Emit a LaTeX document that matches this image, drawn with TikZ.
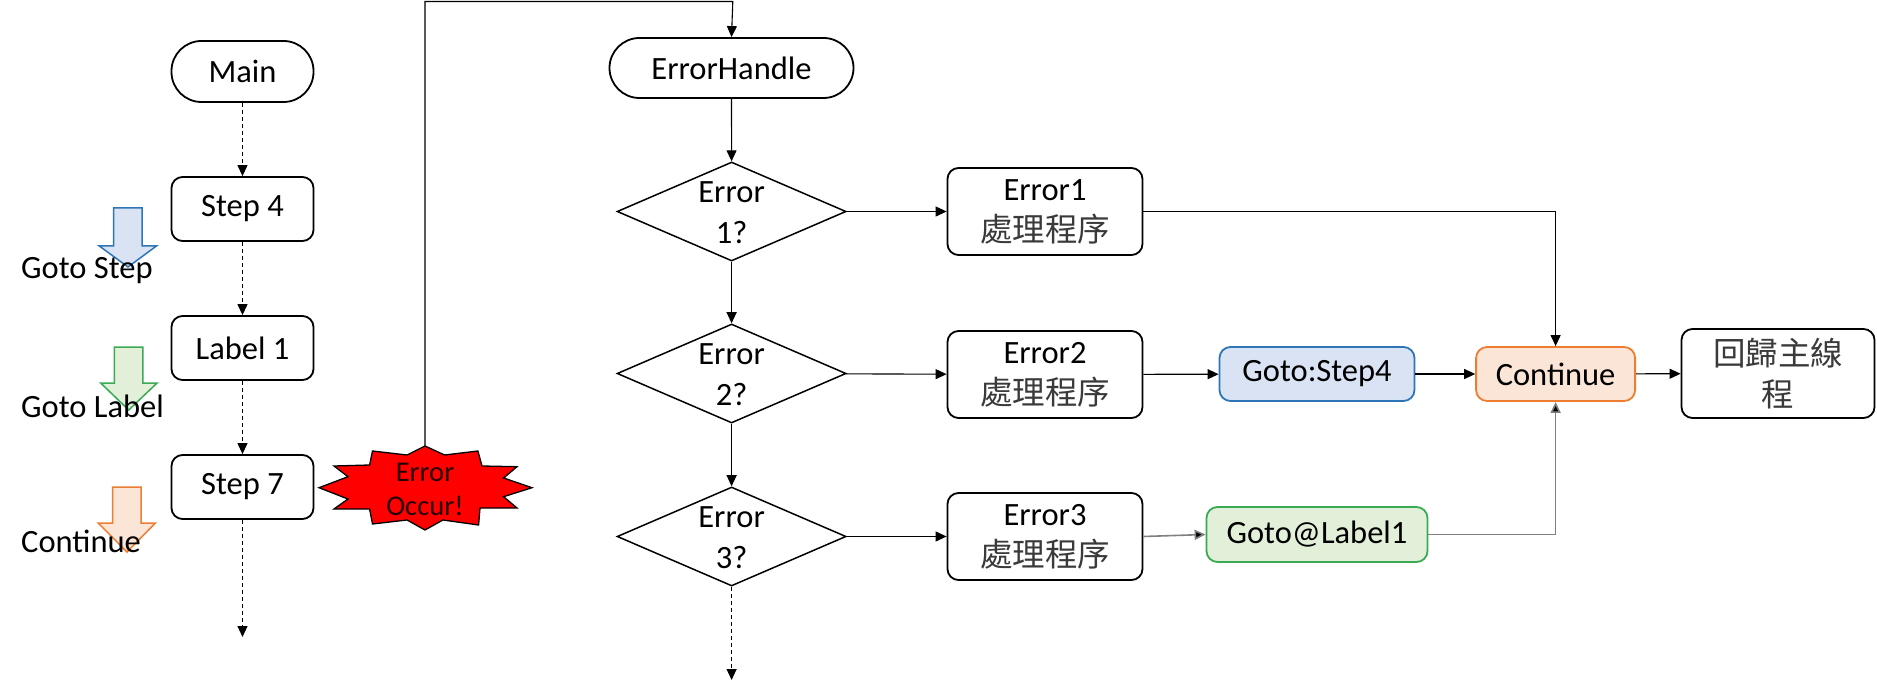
\documentclass[tikz,border=0pt]{standalone}
\usepackage{fontspec}
\setmainfont{Carlito}
\newfontfamily\cjk{Noto Sans CJK TC}
\usetikzlibrary{arrows.meta,shapes.geometric,calc}
\definecolor{bfill}{HTML}{DAE3F3}
\definecolor{bdraw}{HTML}{2E75B6}
\definecolor{ofill}{HTML}{FBE5D6}
\definecolor{odraw}{HTML}{ED7D31}
\definecolor{gfill}{HTML}{E2F0D9}
\definecolor{gdraw}{HTML}{3AAA55}
\definecolor{cjkgray}{HTML}{3A3A3A}
\newcommand{\zh}[1]{{\cjk\color{cjkgray}#1}}
\tikzset{
  txt/.style={font=\fontsize{32.5}{41}\selectfont, inner sep=0pt, align=center},
  procbox/.style={txt, draw, line width=1.8pt, rounded corners=11pt},
  termbox/.style={txt, draw, line width=1.8pt, rounded corners=30pt},
  decbox/.style={diamond, draw, line width=1.5pt, inner sep=0pt, minimum width=229pt, minimum height=99pt},
  conn/.style={line width=1.1pt, -{Triangle[length=11pt,width=10pt]}},
  dconn/.style={conn, dash pattern=on 4pt off 3pt},
  gconn/.style={conn, draw=black!50, line width=1.6pt, -{Triangle[length=11pt,width=10pt,fill=black]}},
  sidetxt/.style={font=\fontsize{32.5}{38}\selectfont, inner sep=0pt, anchor=base west},
}
\begin{document}
\begin{tikzpicture}[x=1pt,y=-1pt]
\useasboundingbox (0,0) rectangle (1877,695);
\fill[white] (0,0) rectangle (1877,695);

% left side arrows
\draw[bdraw, fill=bfill, line width=1.5pt] (113.6,208) -- (142.1,208) -- (142.1,246) -- (156.4,246) -- (128,267) -- (99.3,246) -- (113.6,246) -- cycle;
\draw[gdraw, fill=gfill, line width=1.5pt] (114.3,347) -- (142.9,347) -- (142.9,383) -- (157.1,383) -- (128.7,410) -- (100.7,383) -- (114.3,383) -- cycle;
\draw[odraw, fill=ofill, line width=1.5pt] (112.5,487) -- (141,487) -- (141,523) -- (155.4,523) -- (127,552) -- (98.2,523) -- (112.5,523) -- cycle;
\node[sidetxt] (t1) at (21,278) {Goto Step};
\node[sidetxt] (t2) at (21,417) {Goto Label};
\node[sidetxt] (t3) at (21,552) {Continue};

% main line
\node[termbox, minimum width=142pt, minimum height=61pt] (main) at (242.5,71.5) {Main};
\node[procbox, minimum width=142pt, minimum height=64pt] (s4) at (242.5,209) {Step 4};
\node[procbox, minimum width=142pt, minimum height=64pt] (l1) at (242.5,348) {Label 1};
\node[procbox, minimum width=142pt, minimum height=64pt] (s7) at (242.5,487) {Step 7};
\coordinate (end1) at (242.5,637);
\draw[dconn] (main) -- (s4);
\draw[dconn] (s4) -- (l1);
\draw[dconn] (l1) -- (s7);
\draw[dconn] (s7) -- (end1);

% starburst
\draw[fill=red, line width=1.3pt] (425,446) -- (444.6,455) -- (477.9,451) -- (482,466) -- (517,466.7) -- (503.6,478) -- (532,487.7) -- (503.6,496.7) -- (517,508) -- (480,508) -- (478.6,525) -- (442.9,520) -- (425,530) -- (407,520) -- (372.5,524) -- (369.6,509) -- (334,509) -- (348,499) -- (319,487.7) -- (348,476.7) -- (334,466) -- (369.6,465) -- (372.5,451) -- (407,455) -- cycle;
\node[font=\fontsize{28.6}{34}\selectfont, inner sep=0pt, align=center, text=black!85!red] (err) at (425,489) {Error\\Occur!};
\coordinate (errtop) at (425,446);
\coordinate (topc) at (732.8,1.5);

% error handler
\node[termbox, minimum width=244pt, minimum height=60pt] (eh) at (731.5,68) {ErrorHandle};
\draw[conn] (errtop) |- (topc) -- (eh.north);

\node[decbox] (d1) at (731.6,211.5) {};
\node[txt] (d1t) at (731.6,212.5) {Error\\1?};
\node[decbox] (d2) at (731.6,373.5) {};
\node[txt] (d2t) at (731.6,374.5) {Error\\2?};
\node[decbox] (d3) at (731.6,536.5) {};
\node[txt] (d3t) at (731.6,537.5) {Error\\3?};
\coordinate (end2) at (731.6,680);
\draw[conn] (eh) -- (d1);
\draw[conn] (d1) -- (d2);
\draw[conn] (d2) -- (d3);
\draw[dconn] (d3) -- (end2);

\node[procbox, minimum width=195pt, minimum height=87pt] (e1) at (1045,211.5) {Error1\\\zh{處理程序}};
\node[procbox, minimum width=195pt, minimum height=87pt] (e2) at (1045,374.5) {Error2\\\zh{處理程序}};
\node[procbox, minimum width=195pt, minimum height=87pt] (e3) at (1045,536.5) {Error3\\\zh{處理程序}};
\draw[conn] (d1) -- (e1);
\draw[conn] (d2) -- (e2);
\draw[conn] (d3) -- (e3);

\node[procbox, draw=bdraw, fill=bfill, minimum width=195pt, minimum height=54pt] (g4) at (1317,374) {Goto:Step4};
\node[procbox, draw=odraw, fill=ofill, minimum width=159pt, minimum height=54pt] (cont) at (1555.6,374) {Continue};
\node[procbox, minimum width=193pt, minimum height=89pt] (ret) at (1778,373.5) {\zh{回歸主線}\\\zh{程}};
\node[procbox, draw=gdraw, fill=gfill, minimum width=221pt, minimum height=55pt] (gl) at (1317,534.5) {Goto@Label1};

\draw[conn] (e1.east) -| (cont.north);
\draw[conn] (e2) -- (g4);
\draw[conn] (g4) -- (cont);
\draw[conn] (cont) -- (ret);
\draw[gconn] (e3.east) -- (gl.west);
\draw[gconn] (gl.east) -| (cont.south);
\end{tikzpicture}
\end{document}
